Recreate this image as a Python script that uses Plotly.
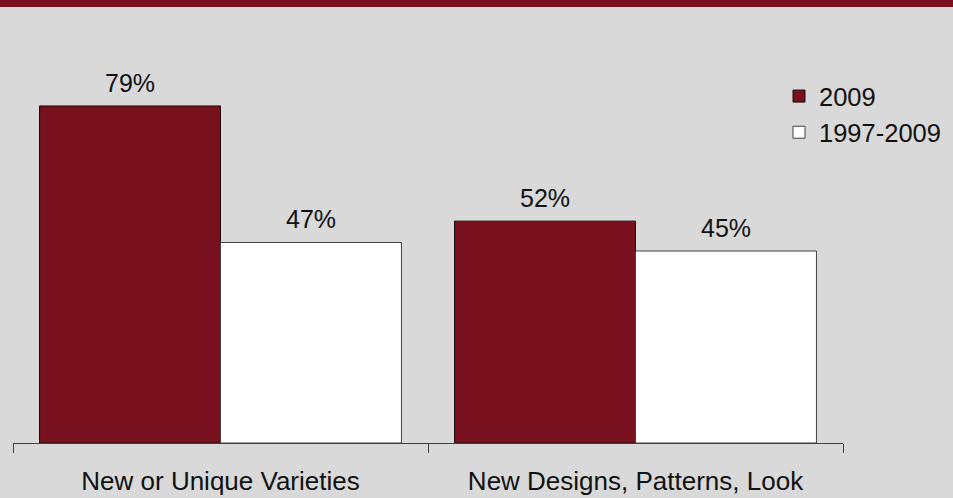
import plotly.graph_objects as go

# Survey results: share of respondents citing each driver
categories = ["New or Unique Varieties", "New Designs, Patterns, Look"]
series_names = ["2009", "1997-2009"]
values_2009 = [79, 52]
values_1997_2009 = [47, 45]

W, H = 953, 498
M = dict(l=13, r=110, t=30, b=55, autoexpand=False)
BARGAP = 0.128
BG = "#d9d9d9"
MAROON = "#78101e"
FONT = "Liberation Sans, Arial, sans-serif"

fig = go.Figure()
fig.add_trace(go.Bar(
    x=categories, y=values_2009, name=series_names[0],
    marker=dict(color=MAROON, line=dict(color="#1a0a0a", width=1)),
))
fig.add_trace(go.Bar(
    x=categories, y=values_1997_2009, name=series_names[1],
    marker=dict(color="#ffffff", line=dict(color="#404040", width=1)),
))

# Percentage labels above each bar
half = (1 - BARGAP) / 4
for offset, vals in ((-half, values_2009), (half, values_1997_2009)):
    for i, v in enumerate(vals):
        fig.add_annotation(
            x=i + offset, y=v, xref="x", yref="y",
            text=f"{v}%", showarrow=False,
            yanchor="middle", yshift=23,
            font=dict(size=25, color="#111111", family=FONT),
        )

# Maroon strip across the top edge
pw = W - M["l"] - M["r"]
ph = H - M["t"] - M["b"]
fig.add_shape(
    type="rect", xref="paper", yref="paper", layer="above",
    x0=-(M["l"] + 2) / pw, x1=1 + (M["r"] + 2) / pw,
    y0=1 + (M["t"] - 7) / ph, y1=1 + (M["t"] + 2) / ph,
    fillcolor=MAROON, line=dict(width=0),
)

fig.update_layout(
    width=W, height=H, margin=M,
    paper_bgcolor=BG, plot_bgcolor=BG,
    barmode="group", bargap=BARGAP, bargroupgap=0,
    font=dict(family=FONT, size=25, color="#111111"),
    xaxis=dict(
        type="category", range=[-0.5, 1.5], automargin=False,
        showline=True, linecolor="#404040", linewidth=1,
        ticks="outside", tickson="boundaries", ticklen=9,
        tickcolor="#404040", tickwidth=1,
        showgrid=False, zeroline=False,
        tickfont=dict(size=26, color="#111111"),
        ticklabelstandoff=15,
    ),
    yaxis=dict(visible=False, range=[0, 96.8]),
    legend=dict(
        x=(779 - M["l"]) / pw, xanchor="left",
        y=(443 - 73) / ph, yanchor="top",
        bgcolor="rgba(0,0,0,0)", font=dict(size=25.5),
    ),
    showlegend=True,
)

fig.write_html("out.html")
